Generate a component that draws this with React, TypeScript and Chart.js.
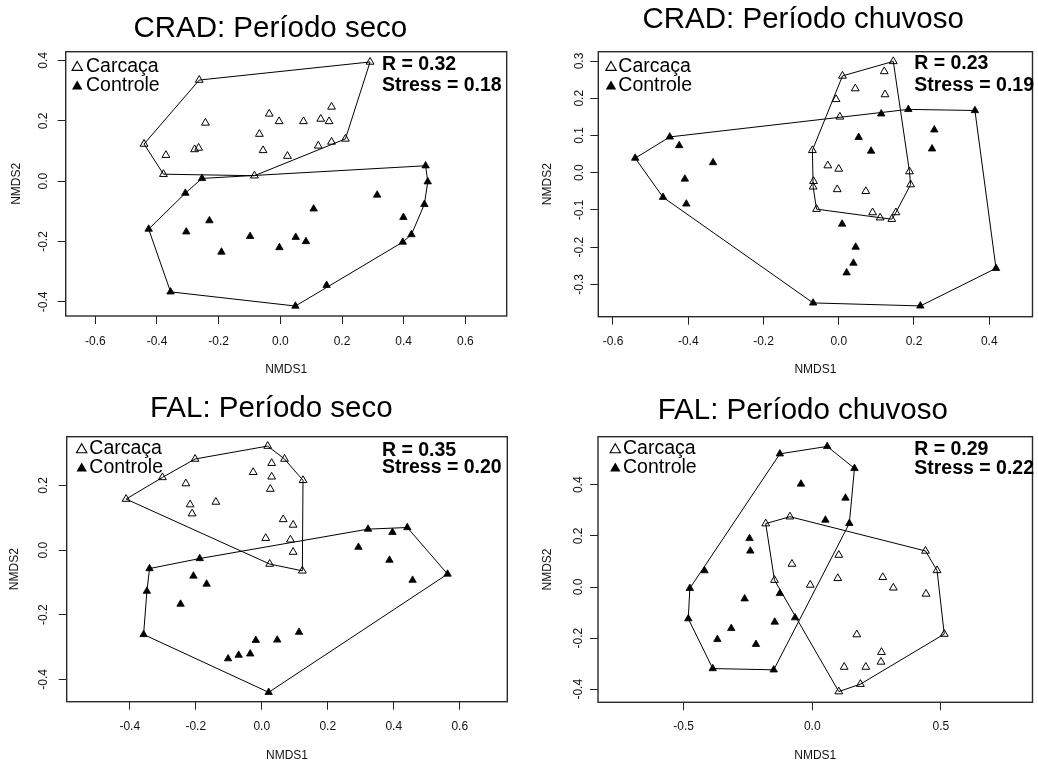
import React, { useEffect, useRef } from "react";
import { Chart, registerables } from "chart.js";
Chart.register(...registerables);

type P = [number, number];

const FONT = '"Liberation Sans", Arial, Helvetica, sans-serif';
const groupLabels = ["Carcaça", "Controle"];
const panelTitles = ["CRAD: Período seco", "CRAD: Período chuvoso", "FAL: Período seco", "FAL: Período chuvoso"];
const rValues = ["0.32", "0.23", "0.35", "0.29"];
const stressValues = ["0.18", "0.19", "0.20", "0.22"];

// CRAD seco
const cradSecoCarcaca: P[] = [
  [0.291, 0.395], [-0.263, 0.335], [-0.442, 0.123], [-0.379, 0.023], [-0.371, 0.086], [-0.278, 0.105],
  [-0.265, 0.11], [-0.243, 0.193], [-0.036, 0.223], [-0.004, 0.198], [-0.068, 0.156], [-0.056, 0.102],
  [-0.084, 0.018], [0.023, 0.083], [0.075, 0.198], [0.131, 0.206], [0.158, 0.198], [0.166, 0.246],
  [0.123, 0.117], [0.166, 0.13], [0.211, 0.14],
];
const cradSecoControle: P[] = [
  [0.471, 0.051], [0.478, -0.002], [0.467, -0.077], [0.425, -0.177], [0.397, -0.202], [0.399, -0.12],
  [0.314, -0.046], [0.15, -0.345], [0.049, -0.414], [-0.356, -0.367], [-0.427, -0.159], [-0.308, -0.04],
  [-0.254, 0.009], [-0.305, -0.168], [-0.23, -0.131], [-0.191, -0.235], [-0.098, -0.183], [-0.003, -0.22],
  [0.05, -0.186], [0.083, -0.2], [0.108, -0.092],
];
const cradSecoXRange = [-0.696, 0.734];
const cradSecoYRange = [-0.447, 0.429];
const cradSecoXTicks = [-0.6, -0.4, -0.2, 0, 0.2, 0.4, 0.6];
const cradSecoYTicks = [-0.4, -0.2, 0, 0.2, 0.4];

// CRAD chuvoso
const cradChuvosoCarcaca: P[] = [
  [0.145, 0.299], [0.01, 0.26], [0.121, 0.272], [0.044, 0.226], [0.123, 0.21], [-0.007, 0.197],
  [0.003, 0.15], [-0.07, 0.06], [-0.029, 0.019], [0.0, 0.01], [-0.067, -0.023], [-0.068, -0.038],
  [-0.004, -0.045], [0.072, -0.05], [-0.059, -0.098], [0.09, -0.107], [0.11, -0.121], [0.141, -0.125],
  [0.152, -0.107], [0.191, -0.032], [0.188, 0.003],
];
const cradChuvosoControle: P[] = [
  [0.185, 0.17], [0.362, 0.167], [0.418, -0.257], [0.217, -0.358], [-0.068, -0.35], [-0.467, -0.066],
  [-0.541, 0.039], [-0.449, 0.096], [-0.424, 0.073], [-0.334, 0.027], [-0.409, -0.017], [-0.405, -0.084],
  [0.113, 0.158], [0.053, 0.095], [0.086, 0.058], [0.254, 0.115], [0.248, 0.064], [0.009, -0.138],
  [0.045, -0.2], [0.039, -0.243], [0.021, -0.269],
];
const cradChuvosoXRange = [-0.639, 0.515];
const cradChuvosoYRange = [-0.387, 0.325];
const cradChuvosoXTicks = [-0.6, -0.4, -0.2, 0, 0.2, 0.4];
const cradChuvosoYTicks = [-0.3, -0.2, -0.1, 0, 0.1, 0.2, 0.3];

// FAL seco
const falSecoCarcaca: P[] = [
  [0.018, 0.322], [0.069, 0.282], [-0.202, 0.282], [-0.301, 0.225], [-0.411, 0.158], [0.125, 0.216],
  [0.123, -0.064], [0.024, -0.043], [-0.23, 0.206], [-0.217, 0.141], [-0.211, 0.113], [-0.139, 0.149],
  [-0.026, 0.241], [0.03, 0.269], [0.03, 0.227], [0.026, 0.189], [0.065, 0.095], [0.095, 0.078],
  [0.012, 0.037], [0.087, 0.032], [0.095, -0.006],
];
const falSecoControle: P[] = [
  [0.322, 0.065], [0.441, 0.07], [0.563, -0.074], [0.021, -0.44], [-0.358, -0.261], [-0.348, -0.127],
  [-0.34, -0.057], [-0.188, -0.026], [0.396, 0.055], [0.293, 0.009], [0.387, -0.031], [0.457, -0.093],
  [-0.207, -0.08], [-0.167, -0.105], [-0.246, -0.167], [0.113, -0.254], [0.047, -0.278], [-0.018, -0.279],
  [-0.035, -0.321], [-0.07, -0.325], [-0.102, -0.336],
];
const falSecoXRange = [-0.591, 0.744];
const falSecoYRange = [-0.469, 0.351];
const falSecoXTicks = [-0.4, -0.2, 0, 0.2, 0.4, 0.6];
const falSecoYTicks = [-0.4, -0.2, 0, 0.2];

// FAL chuvoso
const falChuvosoCarcaca: P[] = [
  [-0.181, 0.248], [-0.087, 0.275], [0.44, 0.141], [0.485, 0.065], [0.513, -0.184], [0.187, -0.38],
  [0.103, -0.409], [-0.147, 0.027], [-0.079, 0.09], [-0.008, 0.008], [0.103, 0.125], [0.099, 0.034],
  [0.274, 0.038], [0.315, -0.003], [0.442, -0.027], [0.173, -0.186], [0.269, -0.255], [0.267, -0.293],
  [0.208, -0.313], [0.124, -0.313],
];
const falChuvosoControle: P[] = [
  [-0.126, 0.521], [0.058, 0.55], [0.164, 0.464], [0.144, 0.249], [-0.15, -0.324], [-0.387, -0.319],
  [-0.482, -0.124], [-0.476, -0.005], [-0.419, 0.064], [-0.044, 0.403], [0.129, 0.348], [0.051, 0.262],
  [-0.244, 0.19], [-0.241, 0.141], [-0.263, -0.046], [-0.126, -0.025], [-0.067, -0.12], [-0.146, -0.137],
  [-0.315, -0.162], [-0.369, -0.205], [-0.219, -0.224],
];
const falChuvosoXRange = [-0.833, 0.856];
const falChuvosoYRange = [-0.451, 0.588];
const falChuvosoXTicks = [-0.5, 0, 0.5];
const falChuvosoYTicks = [-0.4, -0.2, 0, 0.2, 0.4];

// layout (positions only)
const LAYOUTS = [
  { x: 0, y: 0, w: 519, h: 380, area: [65.7, 51.7, 506.7, 316], titleX: 270.3, titleY: 37.3, yTitleX: 17, xTitleY: 370, xLabelY: 341.7, yLabelX: 43.5, legTriX: 77.2, legTextX: 86, legBase: [71.7, 90.7], annBase: [70, 90.7], annRight: 501.7 },
  { x: 519, y: 0, w: 519, h: 380, area: [79.3, 51.7, 518, 316.7], titleX: 284.2, titleY: 28.3, yTitleX: 29, xTitleY: 370, xLabelY: 341.7, yLabelX: 61, legTriX: 92, legTextX: 99.3, legBase: [71.7, 90.7], annBase: [69.3, 90.7], annRight: 515 },
  { x: 0, y: 380, w: 519, h: 383, area: [66.7, 56.7, 507.3, 321.7], titleX: 271.3, titleY: 37.3, yTitleX: 15, xTitleY: 376, xLabelY: 346.7, yLabelX: 44, legTriX: 81.7, legTextX: 89.3, legBase: [74, 92.7], annBase: [76, 93.3], annRight: 501.7 },
  { x: 519, y: 380, w: 519, h: 383, area: [79, 56.7, 518, 322.3], titleX: 283.8, titleY: 39, yTitleX: 29, xTitleY: 376, xLabelY: 346.7, yLabelX: 60, legTriX: 96.3, legTextX: 104, legBase: [74, 92.7], annBase: [75, 94], annRight: 515 },
];

const PANELS = [
  { carcaca: cradSecoCarcaca, controle: cradSecoControle, xr: cradSecoXRange, yr: cradSecoYRange, xt: cradSecoXTicks, yt: cradSecoYTicks },
  { carcaca: cradChuvosoCarcaca, controle: cradChuvosoControle, xr: cradChuvosoXRange, yr: cradChuvosoYRange, xt: cradChuvosoXTicks, yt: cradChuvosoYTicks },
  { carcaca: falSecoCarcaca, controle: falSecoControle, xr: falSecoXRange, yr: falSecoYRange, xt: falSecoXTicks, yt: falSecoYTicks },
  { carcaca: falChuvosoCarcaca, controle: falChuvosoControle, xr: falChuvosoXRange, yr: falChuvosoYRange, xt: falChuvosoXTicks, yt: falChuvosoYTicks },
];

const fmt = (v: number) => Number(v).toFixed(1);

function convexHull(pts: P[]): P[] {
  const s = [...pts].sort((a, b) => a[0] - b[0] || a[1] - b[1]);
  const cross = (o: P, a: P, b: P) => (a[0] - o[0]) * (b[1] - o[1]) - (a[1] - o[1]) * (b[0] - o[0]);
  const lower: P[] = [];
  for (const p of s) {
    while (lower.length >= 2 && cross(lower[lower.length - 2], lower[lower.length - 1], p) <= 0) lower.pop();
    lower.push(p);
  }
  const upper: P[] = [];
  for (let i = s.length - 1; i >= 0; i--) {
    const p = s[i];
    while (upper.length >= 2 && cross(upper[upper.length - 2], upper[upper.length - 1], p) <= 0) upper.pop();
    upper.push(p);
  }
  upper.pop();
  lower.pop();
  const h = lower.concat(upper);
  return [...h, h[0]];
}

const toXY = (p: P) => ({ x: p[0], y: p[1] });

function drawTri(ctx: CanvasRenderingContext2D, cx: number, cy: number, r: number, filled: boolean) {
  ctx.beginPath();
  ctx.moveTo(cx, cy - r);
  ctx.lineTo(cx + r * 0.866, cy + r / 2);
  ctx.lineTo(cx - r * 0.866, cy + r / 2);
  ctx.closePath();
  if (filled) {
    ctx.fillStyle = "#000";
    ctx.fill();
  } else {
    ctx.strokeStyle = "#000";
    ctx.lineWidth = 1.1;
    ctx.stroke();
  }
}

function Panel({ idx }: { idx: number }) {
  const ref = useRef<HTMLCanvasElement>(null);
  const lay = LAYOUTS[idx];
  useEffect(() => {
    const canvas = ref.current!;
    const d = PANELS[idx];
    const [L, T, R, B] = lay.area;
    const W = lay.w, H = lay.h;
    const TL = 8;
    const m = document.createElement("canvas").getContext("2d")!;
    m.font = `12px ${FONT}`;
    const widest = Math.max(...d.yt.map((v) => m.measureText(fmt(v)).width));
    const yPad = L - lay.yLabelX - TL - widest / 2;
    const xPad = lay.xLabelY - B - TL - 7.2;

    const decor = {
      id: "decor" + idx,
      afterDraw(chart: any) {
        const ctx: CanvasRenderingContext2D = chart.ctx;
        const a = chart.chartArea;
        ctx.save();
        ctx.strokeStyle = "#2a2a2a";
        ctx.lineWidth = 1.4;
        ctx.strokeRect(a.left, a.top, a.right - a.left, a.bottom - a.top);
        ctx.fillStyle = "#000";
        ctx.textBaseline = "alphabetic";
        ctx.textAlign = "center";
        ctx.font = `29.5px ${FONT}`;
        ctx.fillText(panelTitles[idx], lay.titleX, lay.titleY);
        ctx.textAlign = "left";
        ctx.font = `19.5px ${FONT}`;
        groupLabels.forEach((lab, i) => {
          const base = lay.legBase[i];
          drawTri(ctx, lay.legTriX, base - 4.3, 6, i === 1);
          ctx.fillStyle = "#000";
          ctx.fillText(lab, lay.legTextX, base);
        });
        ctx.font = `bold 19.5px ${FONT}`;
        const l1 = `R = ${rValues[idx]}`;
        const l2 = `Stress = ${stressValues[idx]}`;
        const x0 = lay.annRight - ctx.measureText(l2).width;
        ctx.fillText(l1, x0, lay.annBase[0]);
        ctx.fillText(l2, x0, lay.annBase[1]);
        ctx.restore();
      },
    };

    const tickFont = { family: FONT, size: 12 };
    const chart = new Chart(canvas, {
      type: "scatter",
      data: {
        datasets: [
          { data: convexHull(d.carcaca).map(toXY), showLine: true, borderColor: "#000", borderWidth: 1, pointRadius: 0, fill: false, tension: 0 },
          { data: convexHull(d.controle).map(toXY), showLine: true, borderColor: "#000", borderWidth: 1, pointRadius: 0, fill: false, tension: 0 },
          { data: d.carcaca.map(toXY), pointStyle: "triangle", pointRadius: 4.5, backgroundColor: "rgba(0,0,0,0)", borderColor: "#000", borderWidth: 1 },
          { data: d.controle.map(toXY), pointStyle: "triangle", pointRadius: 4.3, backgroundColor: "#000", borderColor: "#000", borderWidth: 0.8 },
        ],
      },
      options: {
        responsive: false,
        animation: false,
        devicePixelRatio: 1,
        events: [],
        layout: { padding: { left: 0, top: T, right: W - R, bottom: 0 } },
        plugins: { legend: { display: false }, tooltip: { enabled: false }, title: { display: false } },
        scales: {
          x: {
            type: "linear",
            min: d.xr[0],
            max: d.xr[1],
            afterFit: (s: any) => { s.height = H - B; },
            afterBuildTicks: (s: any) => { s.ticks = d.xt.map((v) => ({ value: v })); },
            ticks: { autoSkip: false, minRotation: 0, maxRotation: 0, padding: xPad, color: "#111", font: tickFont, callback: (v: any) => fmt(v) },
            grid: { drawOnChartArea: false, drawTicks: true, tickLength: TL, color: "#222", lineWidth: 1 },
            border: { display: false },
            title: { display: true, text: "NMDS1", color: "#111", font: tickFont, padding: { top: 0, bottom: H - lay.xTitleY - 7.2 } },
          },
          y: {
            type: "linear",
            min: d.yr[0],
            max: d.yr[1],
            afterFit: (s: any) => { s.width = L; },
            afterBuildTicks: (s: any) => { s.ticks = d.yt.map((v) => ({ value: v })); },
            ticks: { autoSkip: false, minRotation: 90, maxRotation: 90, crossAlign: "center", padding: yPad, color: "#111", font: tickFont, callback: (v: any) => fmt(v) },
            grid: { drawOnChartArea: false, drawTicks: true, tickLength: TL, color: "#222", lineWidth: 1 },
            border: { display: false },
            title: { display: true, text: "NMDS2", color: "#111", font: tickFont, padding: { top: lay.yTitleX - 7.2, bottom: 0 } },
          },
        },
      } as any,
      plugins: [decor],
    });
    return () => chart.destroy();
  }, [idx]);
  return (
    <canvas
      ref={ref}
      width={lay.w}
      height={lay.h}
      style={{ position: "absolute", left: lay.x, top: lay.y, width: lay.w, height: lay.h }}
    />
  );
}

export default function App() {
  return (
    <div style={{ position: "absolute", left: 0, top: 0, width: 1038, height: 763, background: "#fff" }}>
      {[0, 1, 2, 3].map((i) => (
        <Panel key={i} idx={i} />
      ))}
    </div>
  );
}
